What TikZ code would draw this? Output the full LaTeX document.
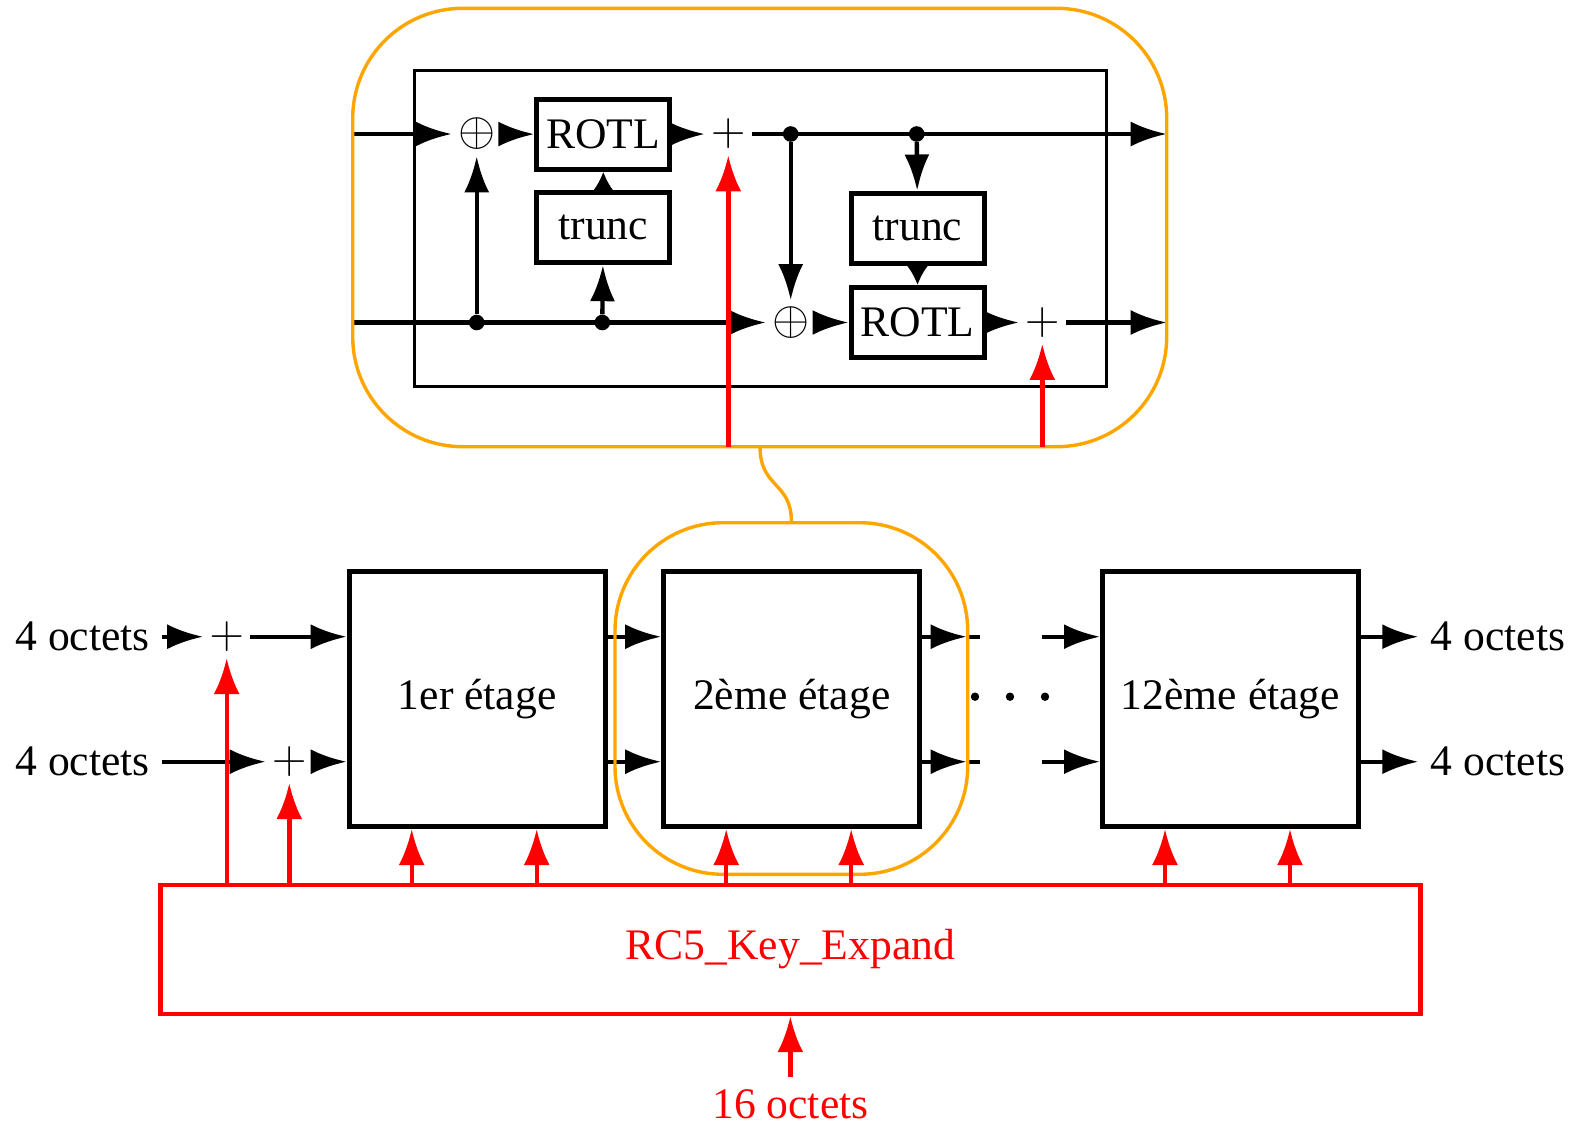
\documentclass[tikz,border=0pt]{standalone}
\usepackage{graphicx}
\usepackage[no-math]{fontspec}
\setmainfont{Liberation Serif}
\usetikzlibrary{arrows.meta}
\definecolor{myorange}{RGB}{255,165,0}
\definecolor{myred}{RGB}{255,0,0}
\newcommand{\opsym}[1]{\scalebox{1.15}{$#1$}}
\tikzset{
  txt/.style={font=\fontsize{21.8}{26}\selectfont},
  blk/.style={line width=2.2pt},
  arr/.style={blk,-{Latex[length=18pt,width=12.5pt]}},
  sarr/.style={blk,-{Latex[length=11pt,width=13pt]}},
  rarr/.style={line width=2.2pt,draw=myred,-{Latex[length=18pt,width=13pt]}},
  opnode/.style={font=\fontsize{20.74}{24}\selectfont,inner sep=3pt},
  smallbox/.style={txt,draw,line width=2.5pt,minimum width=66.5pt,minimum height=35pt,inner sep=0pt},
  stagebox/.style={txt,draw,line width=2.5pt,minimum width=128pt,minimum height=127.5pt,inner sep=0pt,fill=white},
  junct/.style={circle,fill,inner sep=0pt,minimum size=7.8pt},
  oline/.style={draw=myorange,line width=1.7pt},
  lbl/.style={txt,inner sep=6pt},
}
\begin{document}
\begin{tikzpicture}[x=0.5pt,y=-0.5pt]
\useasboundingbox (0,0) rectangle (1584,1125);
% ---------------- top detail ----------------
\node[draw,line width=1.5pt,minimum width=346pt,minimum height=157.65pt,inner sep=0pt] (inner) at (760,228.35) {};
\coordinate (inA) at (352.7,134);
\coordinate (inB) at (352.7,322.5);
\coordinate (outA) at (1166.7,134);
\coordinate (outB) at (1166.7,322.5);
\node[opnode] (xor1) at (476.7,134) {\opsym{\oplus}};
\node[smallbox] (rotl1) at (603.3,134.3) {ROTL};
\node[smallbox] (trunc1) at (603.3,227.7) {trunc};
\node[opnode] (plus1) at (728.3,134) {\opsym{+}};
\node[junct] (j1) at (476.7,322.5) {};
\node[junct] (j2) at (602.3,322.5) {};
\node[junct] (j3) at (790.7,134) {};
\node[junct] (j4) at (916.7,134) {};
\node[opnode] (xor2) at (790.7,322.5) {\opsym{\oplus}};
\node[smallbox] (trunc2) at (917.5,228) {trunc};
\node[smallbox] (rotl2) at (917.5,322.5) {ROTL};
\node[opnode] (plus2) at (1042.3,322.5) {\opsym{+}};
% top row
\draw[arr] (inA) -- (xor1);
\draw[arr] (xor1) -- (rotl1);
\draw[arr] (rotl1) -- (plus1);
\draw[arr] (plus1) -- (outA);
% bottom row
\draw[arr] (inB) -- (xor2);
\draw[arr] (xor2) -- (rotl2);
\draw[arr] (rotl2) -- (plus2);
\draw[arr] (plus2) -- (outB);
% verticals
\draw[arr] (j1) -- (xor1);
\draw[arr] (j2) -- (trunc1);
\draw[sarr] (trunc1) -- (rotl1);
\draw[arr] (j3) -- (xor2);
\draw[arr] (j4) -- (trunc2);
\draw[sarr] (trunc2) -- (rotl2);
% ---------------- bottom chain ----------------
\coordinate (r1) at (0,636.7);
\coordinate (r2) at (0,761.7);
\node[lbl,anchor=west] (in1) at (3,636.7) {4 octets};
\node[lbl,anchor=west] (in2) at (3,761.7) {4 octets};
\node[opnode] (plusA) at (226.7,636.7) {\opsym{+}};
\node[opnode] (plusB) at (289.3,761.7) {\opsym{+}};
\node[stagebox] (box1) at (477.2,699) {1er étage};
\node[stagebox] (box2) at (791.7,699) {2ème étage};
\node[stagebox] (box12) at (1230.5,699) {12ème étage};
\node[lbl,anchor=west] (out1) at (1418.3,636.7) {4 octets};
\node[lbl,anchor=west] (out2) at (1418.3,761.7) {4 octets};
\draw[arr] (in1) -- (plusA);
\draw[arr] (plusA) -- (box1.west |- r1);
\draw[arr] (in2) -- (plusB);
\draw[arr] (plusB) -- (box1.west |- r2);
\draw[arr] (box1.east |- r1) -- (box2.west |- r1);
\draw[arr] (box1.east |- r2) -- (box2.west |- r2);
\coordinate (t1) at (966.7,636.7);
\coordinate (e1) at (980,636.7);
\coordinate (t2) at (966.7,761.7);
\coordinate (e2) at (980,761.7);
\coordinate (s1) at (1041.7,636.7);
\coordinate (s2) at (1041.7,761.7);
\draw[blk] (t1) -- (e1);
\draw[blk] (t2) -- (e2);
\draw[arr] (box2.east |- r1) -- (t1);
\draw[arr] (box2.east |- r2) -- (t2);
\draw[arr] (s1) -- (box12.west |- r1);
\draw[arr] (s2) -- (box12.west |- r2);
\draw[arr] (box12.east |- r1) -- (out1);
\draw[arr] (box12.east |- r2) -- (out2);
\fill (975,696.7) circle (2.1pt);
\fill (1010,696.7) circle (2.1pt);
\fill (1045,696.7) circle (2.1pt);
% ---------------- orange ----------------
\node[oline,rounded corners=55pt,minimum width=407pt,minimum height=219.2pt,inner sep=0pt] (big) at (759.7,227.5) {};
\node[oline,rounded corners=54pt,minimum width=176.35pt,minimum height=175.8pt,inner sep=0pt] (small) at (791.35,698.5) {};
\coordinate (lnk) at (760,446.7);
\draw[oline] (lnk) .. controls (760,488) and (791.35,482) .. (small.north);
% ---------------- red ----------------
\coordinate (ra) at (728.3,446.7);
\coordinate (rb) at (1042.3,446.7);
\draw[rarr] (ra) -- (plus1);
\draw[rarr] (rb) -- (plus2);
\node[txt,draw=myred,text=myred,line width=2.2pt,minimum width=630pt,minimum height=64.5pt,inner sep=0pt] (rk) at (790.35,949.5) {RC5\_Key\_Expand};
\node[lbl,text=myred] (k16) at (790.35,1104) {16 octets};
\draw[rarr] (k16) -- (rk);
\draw[rarr] (plusA |- rk.north) -- (plusA);
\draw[rarr] (plusB |- rk.north) -- (plusB);
\foreach \b in {box1,box2,box12}{
  \draw[rarr] ([xshift=32.5pt]\b.south west |- rk.north) -- ([xshift=32.5pt]\b.south west);
  \draw[rarr] ([xshift=95pt]\b.south west |- rk.north) -- ([xshift=95pt]\b.south west);
}
\end{tikzpicture}
\end{document}
